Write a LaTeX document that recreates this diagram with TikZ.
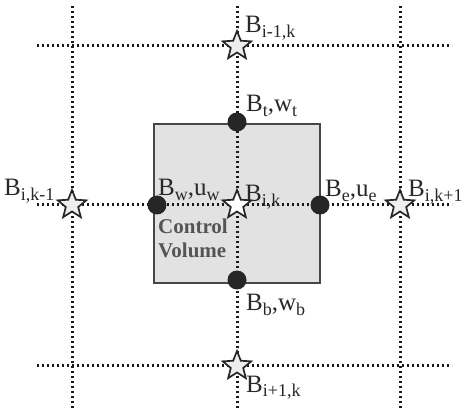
\documentclass[tikz,border=0pt]{standalone}
\usepackage{fontspec}
\setmainfont{Liberation Serif}
\definecolor{cvfill}{RGB}{226,226,226}
\definecolor{cvedge}{RGB}{70,70,70}
\definecolor{cvtext}{RGB}{85,85,85}
\definecolor{lbltext}{RGB}{40,40,40}
\definecolor{starfill}{RGB}{238,238,238}
\usetikzlibrary{shapes.geometric,positioning}
\newcommand{\sub}[1]{\raisebox{-0.35ex}{\fontsize{18}{18}\selectfont #1}}

\begin{document}
\begin{tikzpicture}[x=1pt,y=-1pt,
    gridline/.style={line width=3pt, dash pattern=on 2.4pt off 2.6pt, black!90},
    starpt/.style={star, star points=5, star point ratio=2.3, minimum size=30pt,
      inner sep=0pt, draw=black!85, line width=1.7pt, fill=starfill},
    nodept/.style={circle, fill=black!85, minimum size=19pt, inner sep=0pt},
    lbl/.style={anchor=base west, inner sep=0pt, text=lbltext, font=\fontsize{25}{25}\selectfont},
    cvlabel/.style={anchor=north west, inner sep=0pt, text=cvtext, align=left,
      font=\fontsize{21}{24}\selectfont\bfseries}]
  \useasboundingbox (0,0) rectangle (463,411);

  % Control volume
  \fill[cvfill] (154,124) rectangle (320,283);

  % Grid lines
  \foreach \gx in {72,237,400}
    \draw[gridline] (\gx,6) -- (\gx,411);
  \foreach \gy in {46,205,366}
    \draw[gridline] (37,\gy) -- (452,\gy);

  \draw[cvedge, line width=1.3pt] (154,124) rectangle (320,283);

  % Grid points (stars)
  \node[starpt] (nb) at (237,46) {};
  \node[starpt] (wb) at (72,205) {};
  \node[starpt, fill=white] (cp) at (237,205) {};
  \node[starpt] (eb) at (400,205) {};
  \node[starpt] (sb) at (237,366) {};

  % Face points
  \node[nodept] (ft) at (237,122) {};
  \node[nodept] (fw) at (157,205) {};
  \node[nodept] (fe) at (320,205) {};
  \node[nodept] (fb) at (237,280) {};

  % Labels
  \node[lbl] (lnb) at (245,33) {B\sub{i-1,k}};
  \node[lbl] (lft) at (246,112) {B\sub{t},w\sub{t}};
  \node[lbl] (lwb) at (4,196) {B\sub{i,k-1}};
  \node[lbl] (lfw) at (158,196) {B\sub{w},u\sub{w}};
  \node[lbl] (lcp) at (245,202) {B\sub{i,k}};
  \node[lbl] (lfe) at (325,197) {B\sub{e},u\sub{e}};
  \node[lbl] (leb) at (408,197) {B\sub{i,k+1}};
  \node[lbl] (lfb) at (246,311) {B\sub{b},w\sub{b}};
  \node[lbl] (lsb) at (246,392) {B\sub{i+1,k}};
  \node[cvlabel] (cv) at (158,219) {Control\\Volume};
\end{tikzpicture}
\end{document}
